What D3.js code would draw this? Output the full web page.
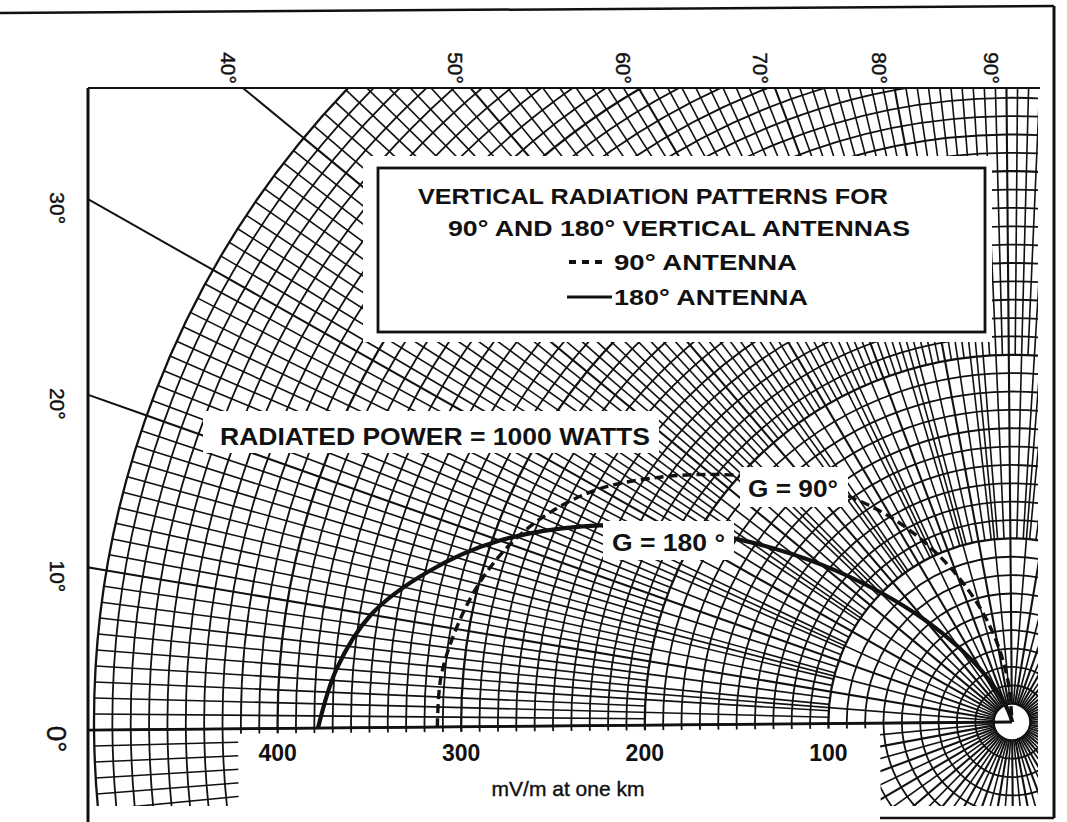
<!DOCTYPE html>
<html>
<head>
<meta charset="utf-8">
<script src="https://cdn.jsdelivr.net/npm/d3@7"></script>
<style>
  body { margin: 0; background: #fff; }
  text { font-family: "Liberation Sans", Arial, Helvetica, sans-serif; fill: #111; }
</style>
</head>
<body>
<div id="chart"></div>
<script>
// elevation angles (deg) and field strength (mV/m at one km)
const angles = [0, 5, 10, 15, 20, 25, 30, 35, 40, 45, 50, 55, 60, 65, 70, 75, 80, 85, 90];
const field180 = [378, 369, 354, 328, 296, 257, 215, 173, 135, 101, 73, 50, 32, 18, 9, 4, 1, 0, 0];
const field90 = [313, 312, 307, 300, 290, 276, 258, 235, 212, 190, 170, 150, 129, 107, 85, 64, 43, 22, 0];

const angleTicks = [0, 10, 20, 30, 40, 50, 60, 70, 80, 90];
const fieldTicks = [100, 200, 300, 400];
const legendLines = ["VERTICAL RADIATION PATTERNS FOR", "90\u00b0 AND 180\u00b0  VERTICAL ANTENNAS"];
const seriesNames = ["90\u00b0 ANTENNA", "180\u00b0 ANTENNA"];

(function() {
  const W = 1067, H = 822;
  const O = [1012, 722];       // origin of the polar grid
  const tilt = -0.5;           // the scan is a little skewed
  const R = 918;               // px for 500 mV/m
  const frame = { left: 88, top: 88, right: 1038, bottom: 806 };

  const r = d3.scaleLinear().domain([0, 500]).range([0, R]);
  const a = d3.scaleLinear().domain([0, 90]).range([-Math.PI / 2, 0]);

  const svg = d3.select("#chart").append("svg")
    .attr("width", W).attr("height", H)
    .style("background", "#fff");

  svg.append("defs").append("clipPath").attr("id", "plotClip")
    .append("rect")
    .attr("x", frame.left).attr("y", frame.top)
    .attr("width", frame.right - frame.left)
    .attr("height", frame.bottom - frame.top);

  const plot = svg.append("g").attr("clip-path", "url(#plotClip)");
  const polar = plot.append("g")
    .attr("transform", `rotate(${tilt},${O[0]},${O[1]}) translate(${O[0]},${O[1]})`);

  // rings every 10 mV/m
  polar.selectAll("circle.ring")
    .data(d3.range(10, 501, 10))
    .join("circle")
    .attr("r", d => r(d))
    .attr("fill", "none")
    .attr("stroke", "#111")
    .attr("stroke-width", d => (d % 100 === 0 || d === 10) ? 2.3 : 1.8);

  // spokes: 5 deg near the centre, 2 deg from 100, 1 deg from 200
  const spokes = d3.range(-180, 180).map(deg => ({
    deg,
    inner: deg % 5 === 0 ? 10 : (deg % 2 === 0 ? 100 : 200)
  }));
  polar.selectAll("line.spoke")
    .data(spokes)
    .join("line")
    .attr("x1", d => d3.pointRadial(a(d.deg), r(d.inner))[0])
    .attr("y1", d => d3.pointRadial(a(d.deg), r(d.inner))[1])
    .attr("x2", d => d3.pointRadial(a(d.deg), r(500))[0])
    .attr("y2", d => d3.pointRadial(a(d.deg), r(500))[1])
    .attr("stroke", "#111")
    .attr("stroke-width", d => d.deg % 10 === 0 ? 2.1 : 1.6);

  // major spokes run on to the frame
  polar.selectAll("line.major")
    .data(angleTicks)
    .join("line")
    .attr("x1", d => d3.pointRadial(a(d), r(500))[0])
    .attr("y1", d => d3.pointRadial(a(d), r(500))[1])
    .attr("x2", d => d3.pointRadial(a(d), r(900))[0])
    .attr("y2", d => d3.pointRadial(a(d), r(900))[1])
    .attr("stroke", "#111")
    .attr("stroke-width", 2);

  // blank strip under the axis for the scale labels
  polar.append("rect")
    .attr("x", 238 - O[0]).attr("y", 5)
    .attr("width", 880 - 238).attr("height", 140)
    .attr("fill", "#fff");

  // 0 deg axis
  polar.append("line")
    .attr("x1", 0).attr("y1", 0)
    .attr("x2", d3.pointRadial(a(0), r(800))[0])
    .attr("y2", 0)
    .attr("stroke", "#111")
    .attr("stroke-width", 2.8);

  // white area behind the legend
  plot.append("rect")
    .attr("x", 363).attr("y", 156).attr("width", 629).attr("height", 186)
    .attr("fill", "#fff");

  // pattern curves
  const curves = plot.append("g")
    .attr("transform", `rotate(${tilt},${O[0]},${O[1]}) translate(${O[0]},${O[1]})`);
  const radial = d3.lineRadial()
    .angle(d => a(d[0]))
    .radius(d => r(d[1]))
    .curve(d3.curveCatmullRom);

  curves.append("path")
    .attr("d", radial(d3.zip(angles, field90)))
    .attr("fill", "none")
    .attr("stroke", "#111")
    .attr("stroke-width", 3.4)
    .attr("stroke-dasharray", "9 5");

  curves.append("path")
    .attr("d", radial(d3.zip(angles, field180)))
    .attr("fill", "none")
    .attr("stroke", "#111")
    .attr("stroke-width", 4.2);

  // label boxes over the grid
  const boxes = [
    { x: 203, y: 411, w: 456, h: 42, text: "RADIATED POWER = 1000 WATTS", tx: 220, ty: 445, len: 430, size: 24 },
    { x: 740, y: 467, w: 108, h: 40, text: "G = 90\u00b0", tx: 748, ty: 497, len: 90, size: 24 },
    { x: 603, y: 521, w: 131, h: 39, text: "G = 180 \u00b0", tx: 612, ty: 551, len: 113, size: 24 }
  ];
  plot.selectAll("rect.box")
    .data(boxes)
    .join("rect")
    .attr("x", d => d.x).attr("y", d => d.y)
    .attr("width", d => d.w).attr("height", d => d.h)
    .attr("fill", "#fff");
  svg.selectAll("text.box")
    .data(boxes)
    .join("text")
    .attr("x", d => d.tx).attr("y", d => d.ty)
    .attr("textLength", d => d.len)
    .attr("lengthAdjust", "spacingAndGlyphs")
    .style("font-size", d => d.size + "px")
    .style("font-weight", "bold")
    .text(d => d.text);

  // legend
  const lg = svg.append("g");
  lg.append("rect")
    .attr("x", 378).attr("y", 168).attr("width", 607).attr("height", 164)
    .attr("fill", "#fff").attr("stroke", "#111").attr("stroke-width", 2.8);
  const lgRows = [
    { text: legendLines[0], x: 418, y: 204, len: 470 },
    { text: legendLines[1], x: 448, y: 236, len: 462 },
    { text: seriesNames[0], x: 614, y: 270, len: 183 },
    { text: seriesNames[1], x: 614, y: 305, len: 194 }
  ];
  lg.selectAll("text")
    .data(lgRows)
    .join("text")
    .attr("x", d => d.x).attr("y", d => d.y)
    .attr("textLength", d => d.len)
    .attr("lengthAdjust", "spacingAndGlyphs")
    .style("font-size", "22px")
    .style("font-weight", "bold")
    .text(d => d.text);
  lg.append("line")
    .attr("x1", 569).attr("y1", 262).attr("x2", 603).attr("y2", 262)
    .attr("stroke", "#111").attr("stroke-width", 4)
    .attr("stroke-dasharray", "7 6");
  lg.append("line")
    .attr("x1", 567).attr("y1", 297).attr("x2", 612).attr("y2", 297)
    .attr("stroke", "#111").attr("stroke-width", 2.8);

  // angle labels where the major spokes meet the frame
  const t = tilt * Math.PI / 180;
  const hit = deg => {
    const th = deg * Math.PI / 180 + t;
    const yLeft = O[1] - (O[0] - frame.left) * Math.tan(th);
    if (yLeft >= frame.top) return { x: 57, y: yLeft + 9 };
    return { x: O[0] - (O[1] - frame.top) / Math.tan(th) - 15, y: 68 };
  };
  svg.selectAll("text.ang")
    .data(angleTicks)
    .join("text")
    .attr("transform", d => {
      const p = hit(d);
      return `translate(${p.x},${p.y}) rotate(90)`;
    })
    .attr("text-anchor", "middle")
    .attr("dy", "0.35em")
    .style("font-size", d => d === 0 ? "28px" : "21px")
    .style("stroke", "#111")
    .style("stroke-width", 0.4)
    .text(d => d + "\u00b0");

  // field strength scale
  svg.selectAll("text.fld")
    .data(fieldTicks)
    .join("text")
    .attr("x", d => O[0] - r(d))
    .attr("y", 761)
    .attr("text-anchor", "middle")
    .style("font-size", "23px")
    .style("font-weight", "bold")
    .text(d => d);

  svg.append("text")
    .attr("x", 568).attr("y", 796)
    .attr("text-anchor", "middle")
    .style("font-size", "21px")
    .style("stroke", "#111")
    .style("stroke-width", 0.4)
    .text("mV/m at one km");

  // frame lines
  const rules = [
    [frame.left, frame.top, frame.left, H, 3],
    [frame.left, frame.top, 1040, frame.top, 2],
    [0, 13, 1054, 6, 2.5],
    [1054, 6, 1054, 818, 3],
    [880, 818, 1054, 818, 2.5]
  ];
  svg.selectAll("line.rule")
    .data(rules)
    .join("line")
    .attr("x1", d => d[0]).attr("y1", d => d[1])
    .attr("x2", d => d[2]).attr("y2", d => d[3])
    .attr("stroke", "#111")
    .attr("stroke-width", d => d[4]);
})();
</script>
</body>
</html>
